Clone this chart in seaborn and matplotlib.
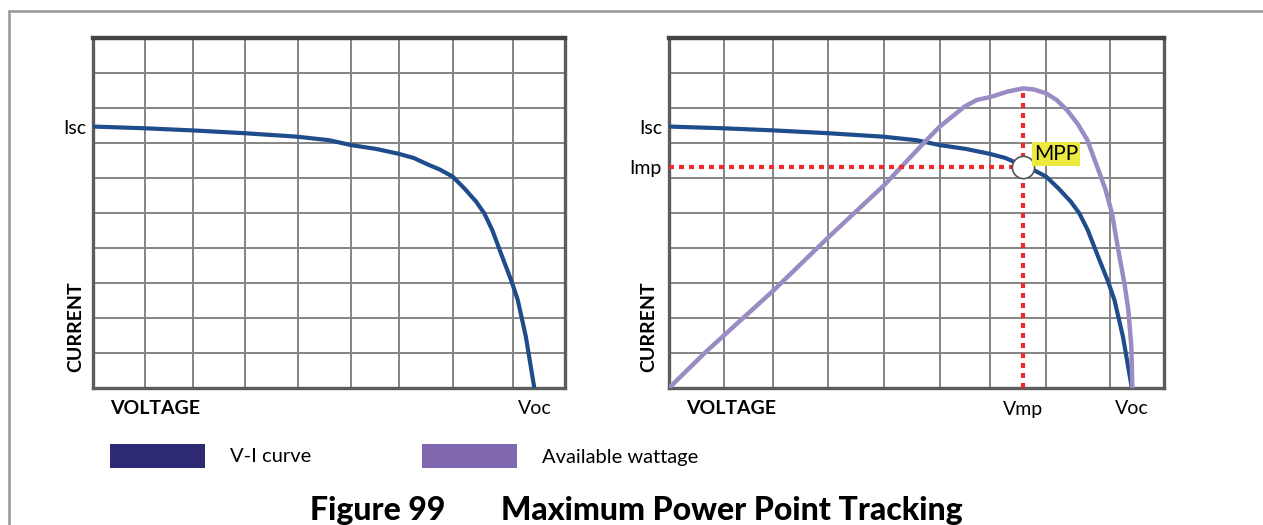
import matplotlib
matplotlib.use('Agg')
import matplotlib.pyplot as plt
import matplotlib.patches as mpatches
from matplotlib.lines import Line2D
import seaborn as sns
import pandas as pd

# voltage as a fraction of the frame width, current / power in grid rows (0-10)
vi_voltage = [0.0, 0.111, 0.211, 0.321, 0.433, 0.500, 0.547, 0.600, 0.648, 0.680,
              0.707, 0.735, 0.762, 0.787, 0.812, 0.829, 0.846, 0.867, 0.887,
              0.900, 0.917, 0.935]
vi_current = [7.47, 7.42, 7.36, 7.28, 7.18, 7.08, 6.94, 6.83, 6.69, 6.57,
              6.40, 6.24, 6.04, 5.70, 5.32, 4.99, 4.51, 3.75, 3.04,
              2.51, 1.47, 0.0]

pw_voltage = [0.0, 0.075, 0.212, 0.323, 0.435, 0.514, 0.547, 0.597, 0.622, 0.651,
              0.684, 0.715, 0.737, 0.762, 0.783, 0.804, 0.825, 0.845, 0.870, 0.882,
              0.895, 0.907, 0.920, 0.928, 0.934, 0.936]
pw_watts = [0.0, 1.04, 2.80, 4.32, 5.80, 6.99, 7.47, 8.04, 8.23, 8.32,
            8.47, 8.56, 8.53, 8.42, 8.23, 7.94, 7.56, 7.09, 6.13, 5.66,
            4.99, 3.99, 2.99, 2.23, 1.18, 0.0]

grid_x = [0.111, 0.211, 0.322, 0.434, 0.547, 0.649, 0.762, 0.890]
grid_y = [1, 2, 3, 4, 5, 6, 7, 8, 9]

isc = 7.47
imp = 6.32
vmp = 0.715
voc = 0.935
p_max = 8.56

VI_COLOR = '#1f4c8a'
PW_COLOR = '#9a8bc4'
VI_SWATCH = '#2e2a73'
PW_SWATCH = '#7f68ae'
FONT = ['Lato', 'DejaVu Sans']

vi_df = pd.DataFrame({'voltage': vi_voltage, 'current': vi_current})
pw_df = pd.DataFrame({'voltage': pw_voltage, 'watts': pw_watts})

sns.set_theme(style='white')
plt.rcParams['font.family'] = FONT
plt.rcParams['text.color'] = 'black'
plt.rcParams['xtick.color'] = 'black'
plt.rcParams['ytick.color'] = 'black'

W, H = 1263, 525
fig = plt.figure(figsize=(W / 100, H / 100), dpi=100)


def fx(px):
    return px / W


def fy(py):
    return 1 - py / H


def setup_panel(ax):
    ax.set_xlim(0, 1)
    ax.set_ylim(0, 10)
    for gx in grid_x:
        ax.axvline(gx, color='#848484', lw=1.4, zorder=1)
    for gy in grid_y:
        ax.axhline(gy, color='#848484', lw=1.4, zorder=1)
    for side, sp in ax.spines.items():
        sp.set_visible(True)
        sp.set_color('#5c5c5c')
        sp.set_linewidth(2.4)
    ax.spines['top'].set_color('#444444')
    ax.spines['top'].set_linewidth(3.2)
    ax.tick_params(length=0, labelsize=14, pad=5, labelcolor='black')
    ax.set_xlabel('')
    ax.set_ylabel('')


ax1 = fig.add_axes([fx(93), fy(388), fx(565 - 93), (388 - 38) / H])
ax2 = fig.add_axes([fx(669), fy(388), fx(1164 - 669), (388 - 38) / H])

# left: V-I curve
sns.lineplot(data=vi_df, x='voltage', y='current', ax=ax1, color=VI_COLOR, lw=3,
             sort=False, estimator=None, zorder=3)
setup_panel(ax1)
ax1.set_yticks([isc], ['Isc'])
ax1.set_xticks([voc], ['Voc'])
ax1.tick_params(axis='x', pad=9)

# right: V-I curve + available wattage
sns.lineplot(data=vi_df, x='voltage', y='current', ax=ax2, color=VI_COLOR, lw=3,
             sort=False, estimator=None, zorder=3)
sns.lineplot(data=pw_df, x='voltage', y='watts', ax=ax2, color=PW_COLOR, lw=3.2,
             sort=False, estimator=None, zorder=4)
setup_panel(ax2)
ax2.plot([0, vmp], [imp, imp], color='#ee2a2a', lw=3, ls=(0, (1.2, 1.2)), zorder=5)
ax2.plot([vmp, vmp], [0, p_max], color='#ee2a2a', lw=3, ls=(0, (1.2, 1.2)), zorder=5)
ax2.plot([vmp], [imp], marker='o', ms=16, mfc='white', mec='#555555', mew=1.2, zorder=6)
ax2.annotate('MPP', xy=(vmp, imp), xytext=(8, 5), textcoords='offset points',
             fontsize=15, color='black', zorder=7,
             bbox=dict(boxstyle='square,pad=0.1', fc='#ecea3f', ec='none'))
ax2.set_yticks([isc, imp], ['Isc', 'Imp'])
ax2.set_xticks([vmp, voc], ['Vmp', 'Voc'])
ax2.tick_params(axis='x', pad=9)

# axis captions
for cx, vx in [(76, 110), (649, 686)]:
    fig.text(fx(cx), fy(327), 'CURRENT', rotation=90, ha='center', va='center',
             fontsize=14, fontweight='bold')
    fig.text(fx(vx), fy(409), 'VOLTAGE', ha='left', va='center',
             fontsize=14, fontweight='bold')

# legend
for x0, colr, label in [(110, VI_SWATCH, 'V-I curve'), (422, PW_SWATCH, 'Available wattage')]:
    fig.patches.append(mpatches.Rectangle((fx(x0), fy(468)), fx(95), 24 / H,
                                          transform=fig.transFigure, fc=colr, ec='none'))
    fig.text(fx(x0 + 120), fy(457), label, ha='left', va='center', fontsize=14.5)

# title
fig.text(fx(310), fy(520), 'Figure 99', ha='left', va='baseline', fontsize=23, fontweight='black')
fig.text(fx(501), fy(520), 'Maximum Power Point Tracking', ha='left', va='baseline',
         fontsize=23, fontweight='black')

# page border
fig.lines.append(Line2D([fx(9), 1], [fy(11), fy(11)], transform=fig.transFigure,
                        color='#9b9b9b', lw=1.9))
fig.lines.append(Line2D([fx(9), fx(9)], [fy(11), 0], transform=fig.transFigure,
                        color='#9b9b9b', lw=1.9))

fig.savefig('out.png', dpi=100, facecolor='white')
